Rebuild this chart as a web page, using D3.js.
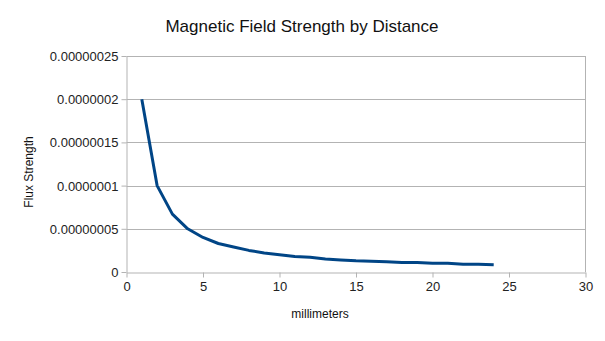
<!DOCTYPE html>
<html><head><meta charset="utf-8">
<script src="https://cdn.jsdelivr.net/npm/d3@7"></script>
<style>body{margin:0;background:#fff}svg{display:block}text{font-family:"Liberation Sans",Arial,sans-serif}</style>
</head><body><svg id="c" width="605" height="341"></svg>
<script>
const distances = [1,2,3,4,5,6,7,8,9,10,11,12,13,14,15,16,17,18,19,20,21,22,23,24];
const flux = [2e-7,1e-7,6.7e-8,5e-8,4e-8,3.3e-8,2.9e-8,2.5e-8,2.2e-8,2e-8,1.8e-8,1.7e-8,1.5e-8,1.4e-8,1.3e-8,1.25e-8,1.2e-8,1.1e-8,1.1e-8,1e-8,1e-8,0.9e-8,0.9e-8,0.85e-8];
const xTicks = [0,5,10,15,20,25,30];
const yTicks = [0,5e-8,1e-7,1.5e-7,2e-7,2.5e-7];
const yTickLabels = ["0","0.00000005","0.0000001","0.00000015","0.0000002","0.00000025"];

const svg = d3.select("#c");
const L=126.5, R=585.5, T=56, B=272;
const x = d3.scaleLinear().domain([0,30]).range([L,R]);
const y = d3.scaleLinear().domain([0,2.5e-7]).range([B,T]);
const grey="#b3b3b3";

svg.append("g").selectAll("line").data(yTicks.slice(1)).join("line")
  .attr("x1",L).attr("x2",R).attr("y1",d=>Math.round(y(d))+0.5).attr("y2",d=>Math.round(y(d))+0.5)
  .attr("stroke",grey).attr("stroke-width",1);
svg.append("line").attr("x1",R).attr("x2",R).attr("y1",T).attr("y2",B).attr("stroke",grey);

const xa = svg.append("g").attr("transform",`translate(0,${B+0.5})`)
  .call(d3.axisBottom(x).tickValues(xTicks).tickSize(5).tickSizeOuter(0).tickPadding(4));
const ya = svg.append("g").attr("transform",`translate(${L},0)`)
  .call(d3.axisLeft(y).tickValues(yTicks).tickSize(5).tickSizeOuter(0).tickPadding(3).tickFormat((d,i)=>yTickLabels[i]));
[xa,ya].forEach(a=>{
  a.selectAll("path,line").attr("stroke",grey);
  a.selectAll("text").attr("fill","#222").style("font-size","13px").style("font-family",'"Liberation Sans",Arial,sans-serif');
});
ya.selectAll("text").attr("dy","0.35em");

const line = d3.line().x((d,i)=>x(distances[i])).y(d=>y(d));
svg.append("path").datum(flux).attr("d",line).attr("fill","none")
  .attr("stroke","#004586").attr("stroke-width",3).attr("stroke-linejoin","round");

svg.append("text").attr("x",302).attr("y",32).attr("text-anchor","middle")
  .style("font-size","17px").attr("fill","#111").text("Magnetic Field Strength by Distance");
svg.append("text").attr("x",320).attr("y",318).attr("text-anchor","middle")
  .style("font-size","12px").attr("fill","#111").text("millimeters");
svg.append("text").attr("transform","translate(33,172) rotate(-90)").attr("text-anchor","middle")
  .style("font-size","12px").attr("fill","#111").text("Flux Strength");
</script></body></html>
